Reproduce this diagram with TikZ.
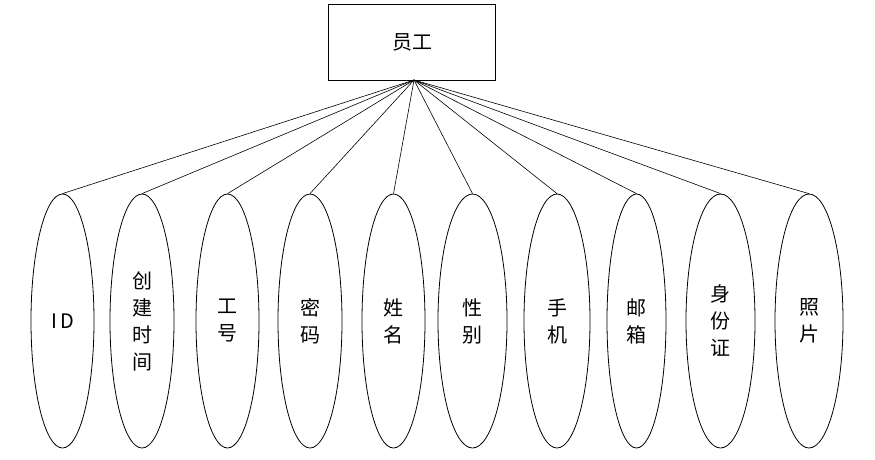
\documentclass[tikz,border=0pt]{standalone}
\usepackage{fontspec}
\setmainfont{Noto Sans CJK SC}
\usetikzlibrary{shapes.geometric}
\begin{document}
\begin{tikzpicture}[x=1pt,y=-1pt,
  entbox/.style={draw,line width=0.8pt,minimum width=167pt,minimum height=76pt,inner sep=0pt,font=\fontsize{20}{24}\selectfont},
  attr/.style={draw,line width=0.8pt,ellipse,minimum height=254pt,inner sep=0pt,align=center,font=\fontsize{20}{27}\selectfont},
  link/.style={line width=0.6pt}]
\useasboundingbox (0,0) rectangle (875,459);
\node[entbox] (e) at (412,42) {员工};
\coordinate (hub) at (414,80);
\node[attr,minimum width=63pt] (a1) at (62.5,321) {I\,D};
\node[attr,minimum width=64pt] (a2) at (142,321) {创\\建\\时\\间};
\node[attr,minimum width=63pt] (a3) at (227.5,321) {工\\号};
\node[attr,minimum width=64pt] (a4) at (310,321) {密\\码};
\node[attr,minimum width=63pt] (a5) at (393.5,321) {姓\\名};
\node[attr,minimum width=69pt] (a6) at (472.5,321) {性\\别};
\node[attr,minimum width=66pt] (a7) at (557,321) {手\\机};
\node[attr,minimum width=59pt] (a8) at (636.5,321) {邮\\箱};
\node[attr,minimum width=69pt] (a9) at (720.5,321) {身\\份\\证};
\node[attr,minimum width=68pt] (a10) at (809,321) {照\\片};
\foreach \i in {1,...,10} \draw[link] (hub) -- (a\i.north);
\end{tikzpicture}
\end{document}
